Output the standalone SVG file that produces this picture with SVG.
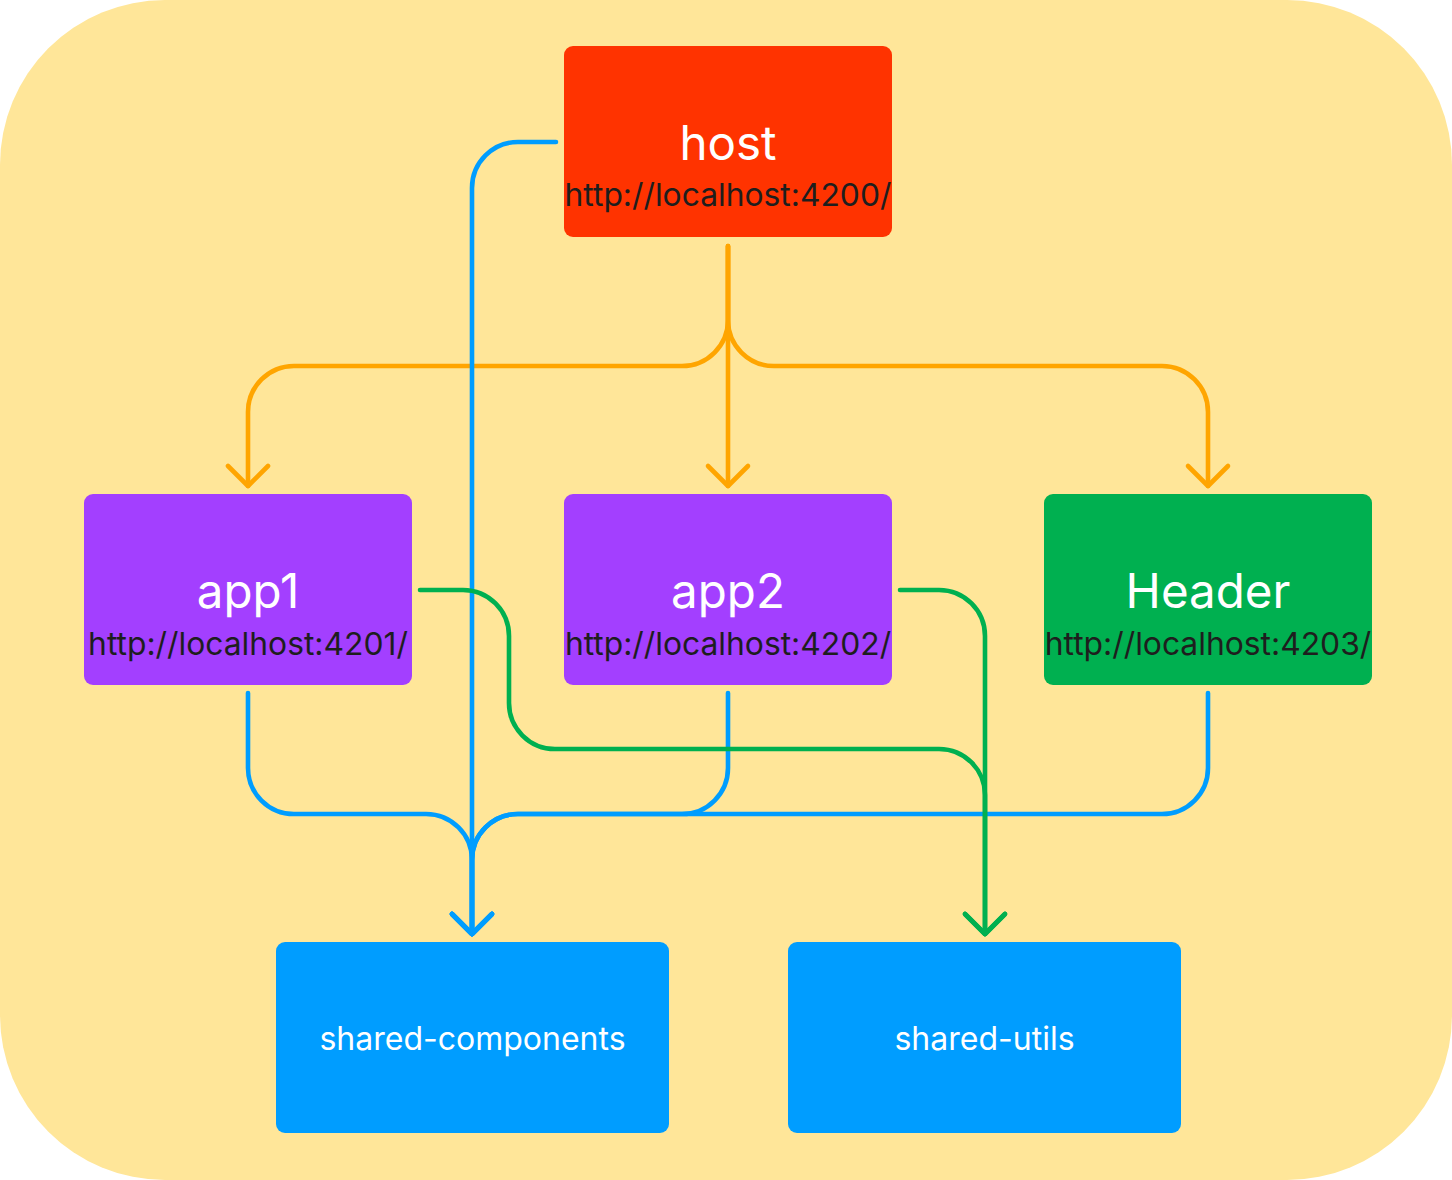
<svg xmlns="http://www.w3.org/2000/svg" width="1452" height="1180" viewBox="0 0 1452 1180">
<defs>
<style>
.title{font-family:Inter,"Noto Sans","Liberation Sans",sans-serif;font-size:47.5px;fill:#ffffff;text-anchor:middle}
.url{font-family:Inter,"Noto Sans","Liberation Sans",sans-serif;font-size:31.8px;fill:#1e1e1e;text-anchor:middle}
.lib{font-family:Inter,"Noto Sans","Liberation Sans",sans-serif;font-size:32px;fill:#ffffff;text-anchor:middle}
.c{fill:none;stroke-width:4.6;stroke-linecap:round;stroke-linejoin:round}
.o{stroke:#FFA500}
.b{stroke:#009DFF}
.g{stroke:#00B050}
</style>
<marker id="ao" markerUnits="userSpaceOnUse" viewBox="-24 -24 28 48" markerWidth="28" markerHeight="48" refX="0" refY="0" orient="auto">
<path d="M-20,-20 L0,0 L-20,20" fill="none" stroke="#FFA500" stroke-width="4.6" stroke-linecap="round" stroke-linejoin="round"/>
</marker>
<marker id="ab" markerUnits="userSpaceOnUse" viewBox="-24 -24 28 48" markerWidth="28" markerHeight="48" refX="0" refY="0" orient="auto">
<path d="M-20,-20 L0,0 L-20,20" fill="none" stroke="#009DFF" stroke-width="4.6" stroke-linecap="round" stroke-linejoin="round"/>
</marker>
<marker id="ag" markerUnits="userSpaceOnUse" viewBox="-24 -24 28 48" markerWidth="28" markerHeight="48" refX="0" refY="0" orient="auto">
<path d="M-20,-20 L0,0 L-20,20" fill="none" stroke="#00B050" stroke-width="4.6" stroke-linecap="round" stroke-linejoin="round"/>
</marker>
</defs>
<rect x="0" y="0" width="1452" height="1180" rx="165" ry="165" fill="#FFE699"/>
<g id="connectors">
<path class="c o" d="M728,246 V320 A46,46 0 0 1 682,366 H294 A46,46 0 0 0 248,412 V486" marker-end="url(#ao)"/>
<path class="c o" d="M728,246 V486" marker-end="url(#ao)"/>
<path class="c o" d="M728,246 V320 A46,46 0 0 0 774,366 H1162 A46,46 0 0 1 1208,412 V486" marker-end="url(#ao)"/>
<path class="c b" d="M556,142 H518 A46,46 0 0 0 472,188 V934" marker-end="url(#ab)"/>
<path class="c b" d="M248,693 V768 A46,46 0 0 0 294,814 H426 A46,46 0 0 1 472,860 V934" marker-end="url(#ab)"/>
<path class="c b" d="M728,693 V768 A46,46 0 0 1 682,814 H518 A46,46 0 0 0 472,860 V934" marker-end="url(#ab)"/>
<path class="c b" d="M1208,693 V768 A46,46 0 0 1 1162,814 H518 A46,46 0 0 0 472,860 V934" marker-end="url(#ab)"/>
<path class="c g" d="M420,590 H463 A46,46 0 0 1 509,636 V703 A46,46 0 0 0 555,749 H939 A46,46 0 0 1 985,795 V934" marker-end="url(#ag)"/>
<path class="c g" d="M900,590 H939 A46,46 0 0 1 985,636 V934" marker-end="url(#ag)"/>
</g>
<g id="host">
<rect x="564" y="46" width="328" height="191" rx="9" fill="#FF3300"/>
<text class="title" x="728" y="160">host</text>
<text class="url" x="728" y="206">http://localhost:4200/</text>
</g>
<g id="app1">
<rect x="84" y="494" width="328" height="191" rx="9" fill="#A33FFF"/>
<text class="title" x="248" y="608">app1</text>
<text class="url" x="248" y="655">http://localhost:4201/</text>
</g>
<g id="app2">
<rect x="564" y="494" width="328" height="191" rx="9" fill="#A33FFF"/>
<text class="title" x="728" y="608">app2</text>
<text class="url" x="728" y="655">http://localhost:4202/</text>
</g>
<g id="header">
<rect x="1044" y="494" width="328" height="191" rx="9" fill="#00B050"/>
<text class="title" x="1208" y="608">Header</text>
<text class="url" x="1208" y="655">http://localhost:4203/</text>
</g>
<g id="shared-components">
<rect x="276" y="942" width="393" height="191" rx="9" fill="#009DFF"/>
<text class="lib" x="472.5" y="1050">shared-components</text>
</g>
<g id="shared-utils">
<rect x="788" y="942" width="393" height="191" rx="9" fill="#009DFF"/>
<text class="lib" x="984.5" y="1050">shared-utils</text>
</g>
</svg>
